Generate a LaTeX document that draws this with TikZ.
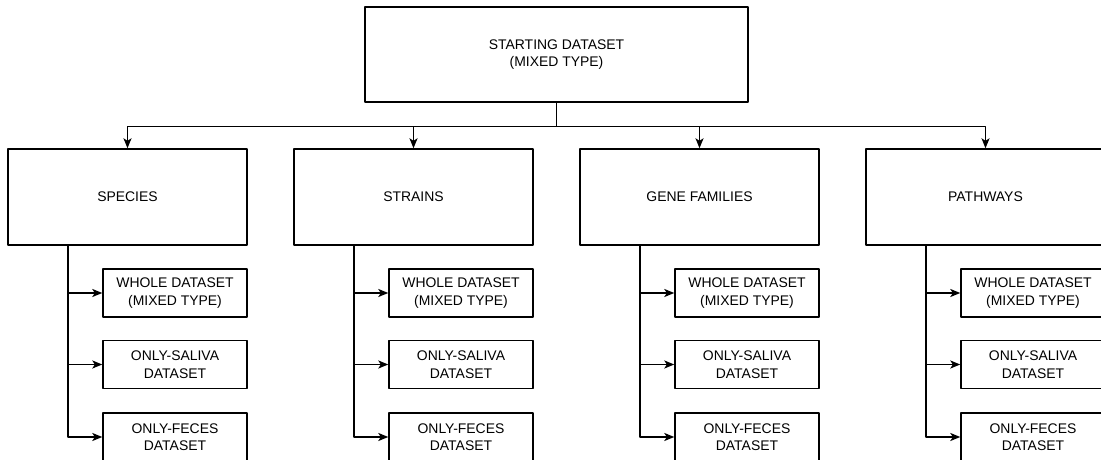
\documentclass[tikz,border=0pt]{standalone}
\usepackage{fontspec}
\setmainfont{Liberation Sans}
\usetikzlibrary{arrows.meta}
\tikzset{
  topbox/.style={draw,minimum width=383bp,minimum height=95bp},
  groupbox/.style={draw,minimum width=239bp,minimum height=96bp},
  subbox/.style={draw,minimum width=144bp,minimum height=48bp},
}
\begin{document}
\begin{tikzpicture}[>={Stealth[length=10bp,width=8bp,inset=2.5bp]},line join=bevel,line width=1.4bp,
  every node/.style={align=center,inner sep=0pt,font=\fontsize{14}{17.5}\selectfont}]
\clip (0bp,0bp) rectangle (1101bp,460bp);
%%
\node (node_0) at (556.5bp,405.5bp) [topbox] {STARTING DATASET\\(MIXED TYPE)};
%
  \node (node_1) at (127.5bp,263bp) [groupbox] {SPECIES};
  \node (node_2) at (413.5bp,263bp) [groupbox] {STRAINS};
  \node (node_3) at (699.5bp,263bp) [groupbox] {GENE FAMILIES};
  \node (node_4) at (985.5bp,263bp) [groupbox] {PATHWAYS};
%
  \node (node_5) at (175bp,167bp) [subbox] {WHOLE DATASET\\(MIXED TYPE)};
  \node (node_6) at (175bp,95.5bp) [subbox] {ONLY-SALIVA\\DATASET};
  \node (node_7) at (175bp,23bp) [subbox] {ONLY-FECES\\DATASET};
  \node (node_8) at (461bp,167bp) [subbox] {WHOLE DATASET\\(MIXED TYPE)};
  \node (node_9) at (461bp,95.5bp) [subbox] {ONLY-SALIVA\\DATASET};
  \node (node_10) at (461bp,23bp) [subbox] {ONLY-FECES\\DATASET};
  \node (node_11) at (747bp,167bp) [subbox] {WHOLE DATASET\\(MIXED TYPE)};
  \node (node_12) at (747bp,95.5bp) [subbox] {ONLY-SALIVA\\DATASET};
  \node (node_13) at (747bp,23bp) [subbox] {ONLY-FECES\\DATASET};
  \node (node_14) at (1033bp,167bp) [subbox] {WHOLE DATASET\\(MIXED TYPE)};
  \node (node_15) at (1033bp,95.5bp) [subbox] {ONLY-SALIVA\\DATASET};
  \node (node_16) at (1033bp,23bp) [subbox] {ONLY-FECES\\DATASET};
%
  \coordinate (trunk_1) at (68bp,215bp);
  \coordinate (trunk_2) at (354bp,215bp);
  \coordinate (trunk_3) at (640bp,215bp);
  \coordinate (trunk_4) at (926bp,215bp);
%
  \draw [black,->] (node_0.south) -- ++(0,-24bp) -| (node_1.north);
  \draw [black,->] (node_0.south) -- ++(0,-24bp) -| (node_2.north);
  \draw [black,->] (node_0.south) -- ++(0,-24bp) -| (node_3.north);
  \draw [black,->] (node_0.south) -- ++(0,-24bp) -| (node_4.north);
%
  \draw [black,->] (trunk_1) |- (node_5);
  \draw [black,->] (trunk_1) |- (node_6);
  \draw [black,->] (trunk_1) |- (node_7);
  \draw [black,->] (trunk_2) |- (node_8);
  \draw [black,->] (trunk_2) |- (node_9);
  \draw [black,->] (trunk_2) |- (node_10);
  \draw [black,->] (trunk_3) |- (node_11);
  \draw [black,->] (trunk_3) |- (node_12);
  \draw [black,->] (trunk_3) |- (node_13);
  \draw [black,->] (trunk_4) |- (node_14);
  \draw [black,->] (trunk_4) |- (node_15);
  \draw [black,->] (trunk_4) |- (node_16);
%
\end{tikzpicture}
\end{document}
